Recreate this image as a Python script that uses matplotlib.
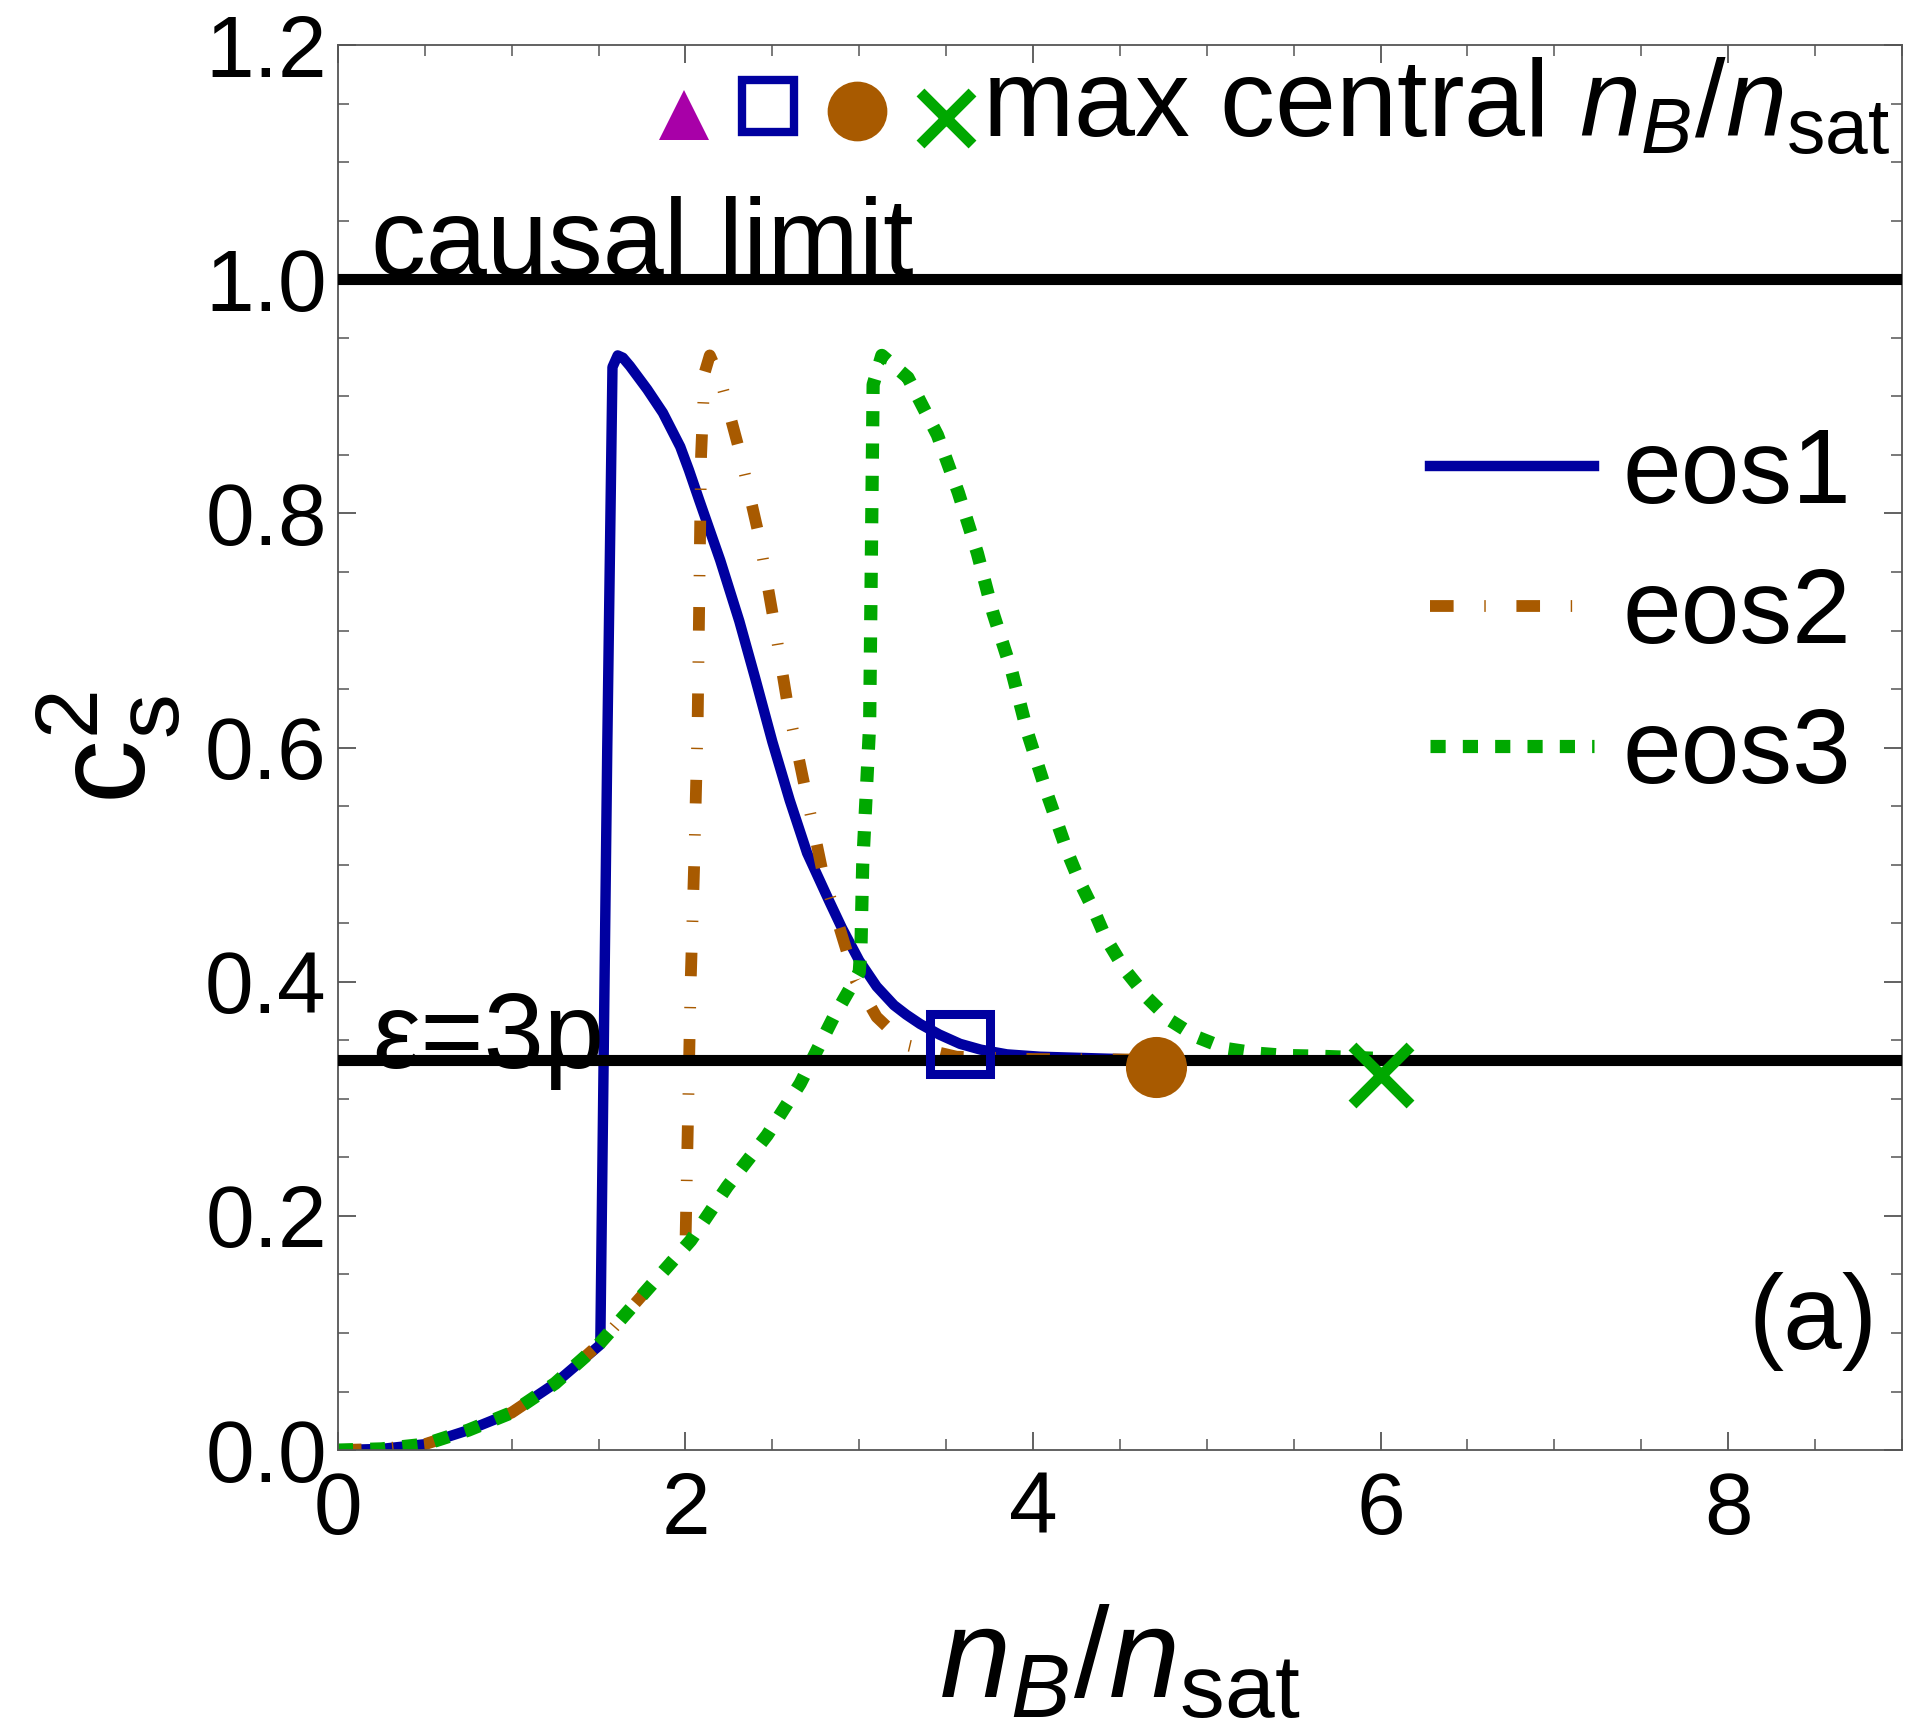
import matplotlib.pyplot as plt
from matplotlib.ticker import MultipleLocator, FormatStrFormatter

plt.rcParams['font.family'] = 'Liberation Sans'
plt.rcParams['mathtext.fontset'] = 'custom'
plt.rcParams['mathtext.rm'] = 'Liberation Sans'
plt.rcParams['mathtext.it'] = 'Liberation Sans:italic'
plt.rcParams['mathtext.bf'] = 'Liberation Sans:bold'

# speed of sound squared vs density
eos1_x = [0, 0.25, 0.5, 0.75, 1.0, 1.25, 1.51, 1.55, 1.58, 1.61, 1.64, 1.68, 1.72, 1.78, 1.87, 1.97,
          2.02, 2.08, 2.2, 2.31, 2.4, 2.5, 2.6, 2.7, 2.83, 2.9, 3.0, 3.1, 3.2, 3.27, 3.35, 3.46,
          3.58, 3.7, 3.85, 4.04, 4.5]
eos1_y = [0, 0.001, 0.005, 0.017, 0.032, 0.057, 0.09, 0.60, 0.925, 0.935, 0.933, 0.926, 0.918, 0.906, 0.886, 0.857,
          0.837, 0.811, 0.760, 0.708, 0.660, 0.605, 0.555, 0.510, 0.468, 0.446, 0.418, 0.396, 0.380, 0.372, 0.364, 0.355,
          0.347, 0.342, 0.338, 0.336, 0.334]

eos2_x = [0, 0.25, 0.5, 0.75, 1.0, 1.25, 1.5, 1.75, 2.0, 2.01, 2.03, 2.05, 2.07, 2.09, 2.11, 2.14,
          2.2, 2.31, 2.42, 2.51, 2.59, 2.79, 2.98, 3.1, 3.27, 3.56, 4.0, 4.71]
eos2_y = [0, 0.001, 0.005, 0.017, 0.032, 0.057, 0.09, 0.132, 0.175, 0.25, 0.40, 0.50, 0.62, 0.85, 0.92, 0.935,
          0.915, 0.854, 0.783, 0.707, 0.635, 0.493, 0.401, 0.37, 0.346, 0.336, 0.334, 0.3335]

eos3_x = [0, 0.25, 0.5, 0.75, 1.0, 1.25, 1.5, 1.75, 2.03, 2.24, 2.47, 2.66, 2.85, 3.0, 3.01, 3.02,
          3.06, 3.08, 3.13, 3.28, 3.45, 3.57, 3.68, 3.77, 3.88, 3.97, 4.08, 4.2, 4.27, 4.35, 4.42,
          4.53, 4.66, 4.79, 4.94, 5.11, 5.29, 5.46, 5.63, 6.0]
eos3_y = [0, 0.001, 0.005, 0.017, 0.032, 0.057, 0.09, 0.132, 0.179, 0.225, 0.269, 0.313, 0.369, 0.408, 0.43, 0.5,
          0.62, 0.91, 0.935, 0.916, 0.867, 0.818, 0.766, 0.715, 0.664, 0.612, 0.561, 0.510, 0.485, 0.461, 0.437,
          0.410, 0.386, 0.367, 0.353, 0.343, 0.339, 0.337, 0.3365, 0.3345]

# max central density of each eos
max_x = [3.58, 4.71, 6.0]
max_y = [0.347, 0.327, 0.32]

causal = 1.0
conformal = 1.0 / 3.0

labels = ['eos1', 'eos2', 'eos3']
xticks = [0, 2, 4, 6, 8]
yticks = [0.0, 0.2, 0.4, 0.6, 0.8, 1.0, 1.2]

BLUE = '#0000A0'
BROWN = '#A85A00'
GREEN = '#00A800'
MAGENTA = '#A800A8'

fig = plt.figure(figsize=(19.07, 17.30), dpi=100)
ax = fig.add_axes([0.1772, 0.1618, 0.8201, 0.8121])

ax.plot(eos1_x, eos1_y, color=BLUE, lw=7.5, label=labels[0], zorder=2)
ax.plot(eos2_x, eos2_y, color=BROWN, lw=8.5, ls=(0, (2.0, 2.6, 0.12, 2.6)), label=labels[1], zorder=2)
ax.plot(eos3_x, eos3_y, color=GREEN, lw=9.5, ls=(0, (1.15, 1.3)), label=labels[2], zorder=2)

ax.axhline(causal, color='black', lw=8, zorder=3)
ax.axhline(conformal, color='black', lw=8, zorder=3)

ax.plot(max_x[0], max_y[0], marker='s', ms=42.5, mfc='none', mec=BLUE, mew=6.5, zorder=5)
ax.plot(max_x[1], max_y[1], marker='o', ms=44, mfc=BROWN, mec=BROWN, mew=0, zorder=5)
ax.plot(max_x[2], max_y[2], marker='x', ms=42, mec=GREEN, mew=8, zorder=5)

# header row of markers
hdr = dict(transform=ax.transAxes, clip_on=False, zorder=5)
ax.plot([0.221], [0.950], marker='^', ms=36, mfc=MAGENTA, mec=MAGENTA, mew=0, **hdr)
ax.plot([0.275], [0.957], marker='s', ms=37, mfc='none', mec=BLUE, mew=6, **hdr)
ax.plot([0.332], [0.953], marker='o', ms=43, mfc=BROWN, mec=BROWN, mew=0, **hdr)
ax.plot([0.389], [0.948], marker='x', ms=38, mec=GREEN, mew=8, **hdr)
ax.text(0.412, 0.935, r'max central $n_B/n_{\mathrm{sat}}$', transform=ax.transAxes,
        fontsize=79, va='baseline', ha='left')

ax.text(0.19, 1.004, 'causal limit', fontsize=79, va='baseline', ha='left', zorder=6)
ax.text(0.20, 0.326, '\u03b5=3p', fontsize=78, va='baseline', ha='left', zorder=6)
ax.text(8.86, 0.11, '(a)', fontsize=76, va='center', ha='right')

ax.legend(loc='upper left', bbox_to_anchor=(0.698, 0.729), frameon=False, fontsize=76,
          handlelength=1.56, handletextpad=0.27, labelspacing=0.39, borderpad=0, borderaxespad=0)

ax.set_xlim(0, 9)
ax.set_ylim(0, 1.2)
ax.set_xticks(xticks)
ax.set_yticks(yticks)
ax.xaxis.set_minor_locator(MultipleLocator(0.5))
ax.yaxis.set_minor_locator(MultipleLocator(0.05))
ax.xaxis.set_major_formatter(FormatStrFormatter('%d'))
ax.yaxis.set_major_formatter(FormatStrFormatter('%.1f'))
ax.tick_params(which='both', direction='in', top=True, right=True, colors='#555555',
               labelcolor='black', labelsize=63, pad=8)
ax.tick_params(axis='x', which='major', pad=15)
ax.tick_params(which='major', length=13, width=1.3)
ax.tick_params(which='minor', length=8, width=1.1)
for s in ax.spines.values():
    s.set_color('#555555')
    s.set_linewidth(1.3)

fig.text(0.587, 0.0185, r'$n_B/n_{\mathrm{sat}}$', fontsize=92, ha='center', va='baseline')
fig.text(0.077, 0.568, r'$\mathrm{c}_\mathrm{s}^2$', fontsize=92, ha='center', va='baseline',
         rotation=90, rotation_mode='anchor')

fig.savefig('out.png', dpi=100)
